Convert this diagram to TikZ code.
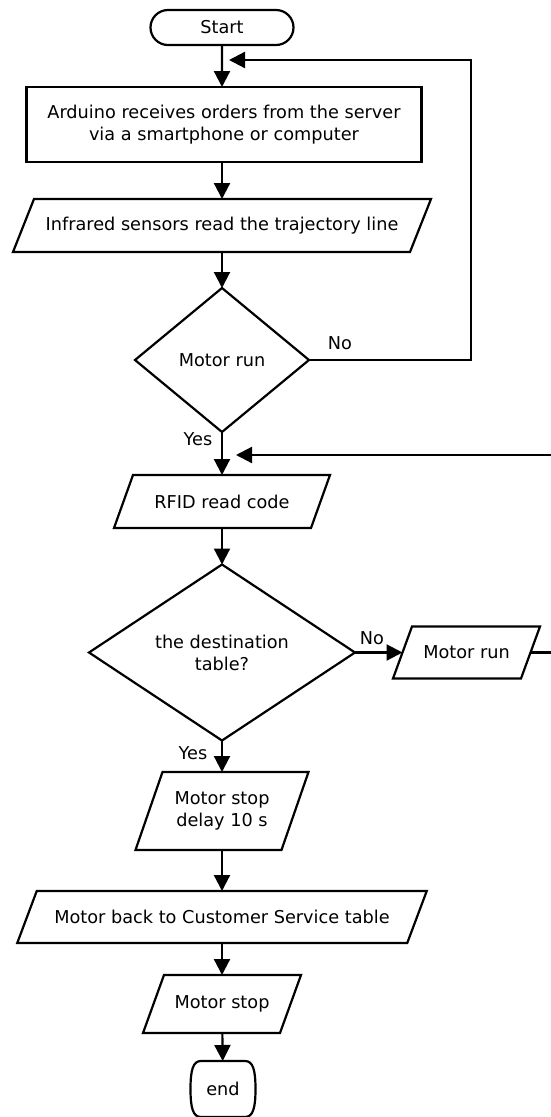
\documentclass[tikz,border=0pt]{standalone}
\usepackage{fontspec}
\setmainfont{DejaVu Sans}
\usetikzlibrary{shapes.geometric,shapes.misc,arrows.meta}
\newcommand\txtfont{\fontsize{17.7}{22}\selectfont}
\newcommand\slantbox[2]{\draw[shapeline] ([xshift=#2]#1.north west) -- ([xshift=#2]#1.north east) -- ([xshift=-#2]#1.south east) -- ([xshift=-#2]#1.south west) -- cycle;}
\tikzset{
  shapeline/.style={line width=2.2pt, line join=miter},
  base/.style={draw, line width=2.2pt, font=\txtfont, align=center, inner sep=0pt, outer sep=0pt},
  term/.style={base, rounded rectangle},
  procbox/.style={base, rectangle},
  iobox/.style={rectangle, draw=none, font=\txtfont, align=center, inner sep=0pt, outer sep=0pt},
  decision/.style={base, diamond, aspect=1.5},
  arr/.style={line width=2.2pt, -{Triangle[length=16pt,width=16pt]}},
  lbl/.style={font=\txtfont, inner sep=0pt}
}
\begin{document}
\begin{tikzpicture}[x=1pt,y=-1pt]
\useasboundingbox (0,0) rectangle (551,1117);
\node[term, minimum width=143pt, minimum height=35pt] (start) at (222,27.5) {Start};
\node[procbox, minimum width=395pt, minimum height=75pt] (recv) at (224,124.5) {Arduino receives orders from the server\\via a smartphone or computer};
\node[iobox, minimum width=397pt, minimum height=53pt] (ir) at (222,225.5) {Infrared sensors read the trajectory line};
\slantbox{ir}{10.5pt}
\node[decision, minimum width=174pt, minimum height=144pt] (d1) at (222,360) {Motor run};
\node[iobox, minimum width=197pt, minimum height=53pt] (rfid) at (222,501.5) {RFID read code};
\slantbox{rfid}{9.5pt}
\node[decision, minimum width=266pt, minimum height=176pt] (d2) at (222,652.5) {the destination\\table?};
\node[iobox, minimum width=128pt, minimum height=52pt] (mrun) at (466.5,652.5) {Motor run};
\slantbox{mrun}{9.5pt}
\node[iobox, minimum width=146pt, minimum height=78pt] (stopd) at (222,811) {Motor stop\\delay 10 s};
\slantbox{stopd}{13.5pt}
\node[iobox, minimum width=390pt, minimum height=52pt] (back) at (222,917) {Motor back to Customer Service table};
\slantbox{back}{9.75pt}
\node[iobox, minimum width=137pt, minimum height=58pt] (mstop) at (222,1004) {Motor stop};
\slantbox{mstop}{10.5pt}
\node[iobox, minimum width=65pt, minimum height=56pt] (endn) at (223,1089) {end};
\draw[shapeline] ([xshift=-22pt]endn.north) -- ([xshift=22pt]endn.north) .. controls +(8,0) and +(0,-19) .. (endn.east) .. controls +(0,19) and +(8,0) .. ([xshift=22pt]endn.south) -- ([xshift=-22pt]endn.south) .. controls +(-8,0) and +(0,19) .. (endn.west) .. controls +(0,-19) and +(-8,0) .. cycle;

\coordinate (j1) at (229,60);
\coordinate (c1) at (471,60);
\coordinate (j2) at (236,455);

\draw[arr] (start) -- (start |- recv.north);
\draw[arr] (start |- recv.south) -- (ir);
\draw[arr] (ir) -- (d1);
\draw[arr] (d1) -- (rfid);
\draw[arr] (rfid) -- (d2);
\draw[arr] (d2) -- (stopd);
\draw[arr] (stopd) -- (back);
\draw[arr] (back) -- (mstop);
\draw[arr] (mstop) -- (endn);
\draw[arr] (d2.east) -- (mrun.west);
\draw[arr] (d1.east) -| (c1) -- (j1);
\draw[arr] (mrun.east) -- ++(40,0) |- (j2);

\node[lbl] (no1) at (340,343) {No};
\node[lbl] (yes1) at (198,439) {Yes};
\node[lbl] (no2) at (372,638) {No};
\node[lbl] (yes2) at (193,753) {Yes};
\end{tikzpicture}
\end{document}
